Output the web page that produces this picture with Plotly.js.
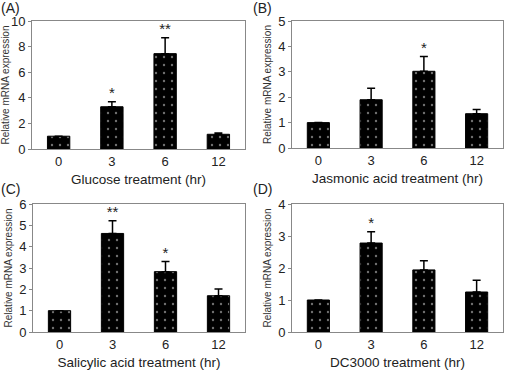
<!DOCTYPE html>
<html><head><meta charset="utf-8">
<script src="https://cdn.plot.ly/plotly-3.0.1.min.js"></script>
<style>html,body{margin:0;padding:0;background:#fff}#c{width:506px;height:375px}</style>
</head><body><div id="c"></div>
<script>
const categories = ['0','3','6','12'];
const panelLabels = ['(A)','(B)','(C)','(D)'];
const xTitles = ['Glucose treatment (hr)','Jasmonic acid treatment (hr)','Salicylic acid treatment (hr)','DC3000 treatment (hr)'];
const yTitle = 'Relative mRNA expression';
const glucoseVals = [1.0, 3.3, 7.45, 1.15];
const glucoseErr = [0.0, 0.4, 1.25, 0.1];
const glucoseSig = ['', '*', '**', ''];
const jasmonicVals = [1.0, 1.9, 3.02, 1.35];
const jasmonicErr = [0.0, 0.45, 0.58, 0.17];
const jasmonicSig = ['', '', '*', ''];
const salicylicVals = [1.0, 4.62, 2.83, 1.7];
const salicylicErr = [0.0, 0.6, 0.47, 0.32];
const salicylicSig = ['', '**', '*', ''];
const dcVals = [1.0, 2.78, 1.94, 1.25];
const dcErr = [0.0, 0.35, 0.29, 0.37];
const dcSig = ['', '*', '', ''];
const yMax = [10, 5, 6, 4];
const yDtick = [2, 1, 1, 1];

const vals = [glucoseVals, jasmonicVals, salicylicVals, dcVals];
const errs = [glucoseErr, jasmonicErr, salicylicErr, dcErr];
const sigs = [glucoseSig, jasmonicSig, salicylicSig, dcSig];

const W = 506, H = 375;
const boxes = [
  {l:32, r:245, t:21, b:149},
  {l:292, r:503, t:21, b:148},
  {l:33, r:245, t:204, b:332},
  {l:292, r:503, t:204, b:332}
];
const font = 'Liberation Sans, Arial, sans-serif';
const data = [];
const layout = {
  width: W, height: H, margin:{l:0,r:0,t:0,b:0},
  paper_bgcolor:'#fff', plot_bgcolor:'#fff', showlegend:false,
  bargap: 0.58, font:{family:font, color:'#222'}, annotations: []
};
for (let i=0;i<4;i++){
  const n = i===0 ? '' : String(i+1);
  const xa = 'x'+n, ya = 'y'+n;
  data.push({
    type:'bar', x:categories, y:vals[i], xaxis:xa, yaxis:ya,
    marker:{color:'#000', line:{color:'#000', width:1},
      pattern:{shape:'.', fgcolor:'#e0e0e0', bgcolor:'#000', size:8, solidity:0.07, fillmode:'overlay'}},
    error_y:{type:'data', symmetric:false, array:errs[i], arrayminus:errs[i].map(()=>0), color:'#000', thickness:1.5, width:4, visible:true}
  });
  data.push({
    type:'scatter', mode:'text', x:categories, y:vals[i].map((v,j)=>v+errs[i][j]), text:sigs[i],
    textposition:'top center', textfont:{size:15, color:'#222', family:font}, xaxis:xa, yaxis:ya, cliponaxis:false, hoverinfo:'skip'
  });
  const b = boxes[i];
  layout['xaxis'+n] = {
    domain:[b.l/W, b.r/W], anchor:ya, type:'category', range:[-0.5,3.5],
    showline:true, linecolor:'#888', linewidth:1, mirror:true, ticks:'', showgrid:false,
    tickfont:{size:13, color:'#222'}, ticklen:0,
    title:{text:xTitles[i], font:{size:13.5, color:'#222'}, standoff:6}
  };
  layout['yaxis'+n] = {
    domain:[1-b.b/H, 1-b.t/H], anchor:xa, range:[0, yMax[i]], dtick:yDtick[i],
    showline:true, linecolor:'#888', linewidth:1, mirror:true, ticks:'outside', ticklen:3, tickcolor:'#888',
    showgrid:false, zeroline:false, tickfont:{size:13, color:'#222'},
    title:{text:yTitle, font:{size:10, color:'#333'}, standoff:4}
  };
  layout.annotations.push({
    text:panelLabels[i], xref:'paper', yref:'paper', x:(i%2===0? 0 : 252)/W, y:1-(i<2? -1 : 180)/H,
    xanchor:'left', yanchor:'top', showarrow:false, borderpad:0, font:{size:14, color:'#222'}
  });
}
Plotly.newPlot('c', data, layout, {staticPlot:true});
</script></body></html>
